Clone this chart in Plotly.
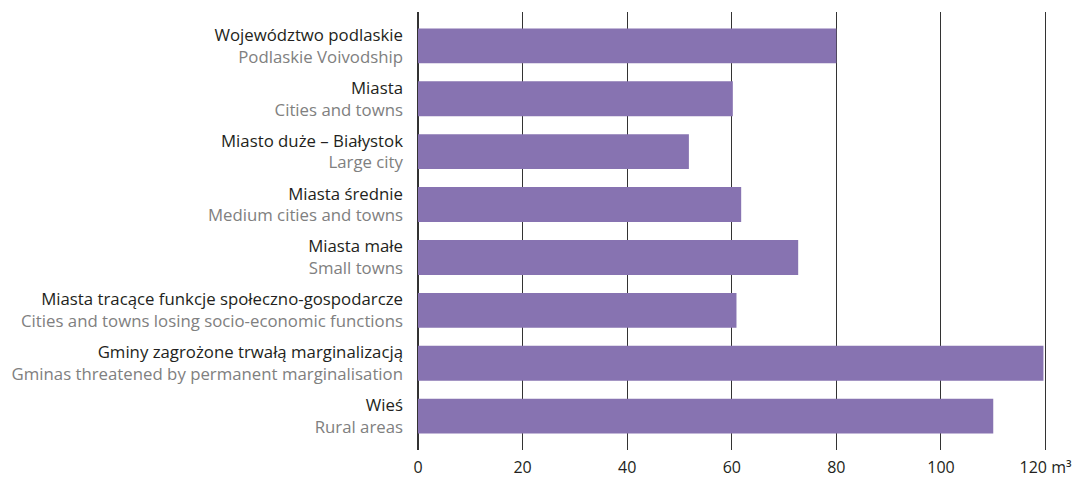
import plotly.graph_objects as go

labels_pl = [
    "Województwo podlaskie",
    "Miasta",
    "Miasto duże – Białystok",
    "Miasta średnie",
    "Miasta małe",
    "Miasta tracące funkcje społeczno-gospodarcze",
    "Gminy zagrożone trwałą marginalizacją",
    "Wieś",
]
labels_en = [
    "Podlaskie Voivodship",
    "Cities and towns",
    "Large city",
    "Medium cities and towns",
    "Small towns",
    "Cities and towns losing socio-economic functions",
    "Gminas threatened by permanent marginalisation",
    "Rural areas",
]
values = [80.0, 60.2, 51.8, 61.8, 72.7, 60.9, 119.6, 110.0]
x_ticks = [0, 20, 40, 60, 80, 100, 120]
x_ticktext = ["0", "20", "40", "60", "80", "100", "120 m³"]

cats = list(range(len(values)))
ticktext = [f"{p}<br><span style='color:#808080'>{e}</span>" for p, e in zip(labels_pl, labels_en)]

fig = go.Figure(go.Bar(
    x=values, y=cats, orientation="h",
    marker=dict(color="#8773B1", line=dict(width=0)),
    hoverinfo="skip",
))

FONT = "Open Sans"
fig.update_layout(
    width=1079, height=469,
    margin=dict(l=410, r=31, t=4, b=27, autoexpand=False),
    paper_bgcolor="white", plot_bgcolor="white",
    bargap=0.34,
    showlegend=False,
    font=dict(family=FONT, size=15, color="#231f20"),
)
fig.update_xaxes(
    range=[0, 122], tickvals=x_ticks, ticktext=x_ticktext,
    showgrid=True, gridcolor="#333333", gridwidth=1.3,
    zeroline=True, zerolinecolor="#333333", zerolinewidth=1.5,
    showline=False, ticks="", ticklabelstandoff=6, automargin=False,
    tickfont=dict(family=FONT, size=16, color="#231f20"),
)
fig.update_yaxes(
    range=[7.64, -0.64], tickvals=cats, ticktext=ticktext,
    showgrid=False, zeroline=False, showline=False, ticks="",
    ticklabelstandoff=14, automargin=False,
    tickfont=dict(family=FONT, size=16.8, color="#231f20"),
)
fig.write_html("out.html")
